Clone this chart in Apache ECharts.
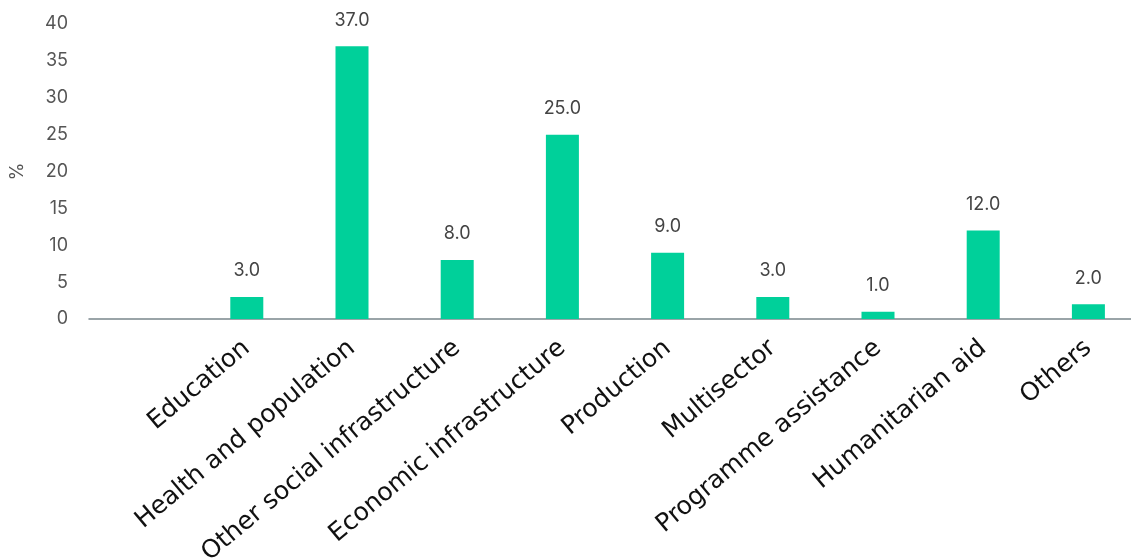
<!DOCTYPE html>
<html><head><meta charset="utf-8">
<script src="https://cdn.jsdelivr.net/npm/echarts@6/dist/echarts.min.js"></script>
<style>html,body{margin:0;padding:0;background:#fff}#c{width:1131px;height:558px}</style>
</head><body><div id="c"></div>
<script>
const categories = ["", "Education", "Health and population", "Other social infrastructure", "Economic infrastructure", "Production", "Multisector", "Programme assistance", "Humanitarian aid", "Others"];
const values = [null, 3.0, 37.0, 8.0, 25.0, 9.0, 3.0, 1.0, 12.0, 2.0];
const yTicks = [0, 5, 10, 15, 20, 25, 30, 35, 40];
const yName = "%";

const chart = echarts.init(document.getElementById('c'), null, {renderer: 'canvas'});
chart.setOption({
  animation: false,
  grid: {left: 89, width: 1052, top: 24, bottom: 239, containLabel: false, outerBoundsMode: 'none'},
  xAxis: {
    type: 'category',
    data: categories,
    axisLine: {lineStyle: {color: '#7a868c', width: 1.5}},
    axisTick: {show: false},
    axisLabel: {rotate: 40, interval: 0, margin: 26, fontFamily: 'DejaVu Sans', fontSize: 25, color: '#111'}
  },
  yAxis: {
    type: 'value',
    min: yTicks[0], max: yTicks[yTicks.length - 1], interval: 5,
    name: yName, nameLocation: 'middle', nameGap: 62, nameRotate: 90,
    nameTextStyle: {fontFamily: 'Inter', fontSize: 18, color: '#555'},
    axisLine: {show: false}, axisTick: {show: false}, splitLine: {show: false},
    axisLabel: {fontFamily: 'Inter', fontSize: 18, color: '#555', margin: 21}
  },
  series: [{
    type: 'bar',
    data: values,
    barWidth: 33,
    itemStyle: {color: '#00d09a'},
    label: {show: true, position: 'top', distance: 17, fontFamily: 'Inter', fontSize: 18, color: '#444',
      formatter: p => p.value == null ? '' : Number(p.value).toFixed(1)}
  }]
});
</script></body></html>
